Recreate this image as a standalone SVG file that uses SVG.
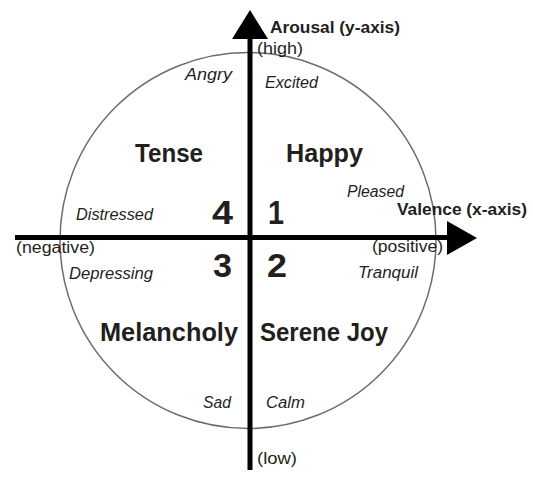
<svg xmlns="http://www.w3.org/2000/svg" width="533" height="478" viewBox="0 0 533 478">
<style>
text{font-family:"Liberation Sans",Arial,sans-serif;fill:#231f20}
.it{font-style:italic;font-size:16px}
.rg{font-size:16px}
.ax{font-weight:bold;font-size:16px}
.q{font-weight:bold;font-size:25px}
.n{font-weight:bold;font-size:34px}
</style>
<rect width="533" height="478" fill="#fff"/>
<g id="circle"><circle cx="248" cy="240.5" r="188" fill="none" stroke="#6d6d6d" stroke-width="1.5"/></g>
<g id="connectors">
<line x1="250" y1="36" x2="250" y2="470" stroke="#000" stroke-width="5"/>
<polygon points="250,10 232,39 268,39" fill="#000"/>
<line x1="15" y1="237.5" x2="450" y2="237.5" stroke="#000" stroke-width="5"/>
<polygon points="477,238 447,221 447,255" fill="#000"/>
</g>
<g id="y-axis-label"><text class="ax" x="270" y="33" textLength="130" lengthAdjust="spacingAndGlyphs">Arousal (y-axis)</text>
<text class="rg" x="257" y="54" textLength="46" lengthAdjust="spacingAndGlyphs">(high)</text>
<text class="rg" x="257" y="464" textLength="40" lengthAdjust="spacingAndGlyphs">(low)</text></g>
<g id="x-axis-label"><text class="ax" x="397" y="215" textLength="130" lengthAdjust="spacingAndGlyphs">Valence (x-axis)</text>
<text class="rg" x="16" y="253" textLength="79" lengthAdjust="spacingAndGlyphs">(negative)</text>
<text class="rg" x="372" y="252" textLength="71" lengthAdjust="spacingAndGlyphs">(positive)</text></g>
<g id="q1"><text class="q" x="286" y="162" textLength="77" lengthAdjust="spacingAndGlyphs">Happy</text>
<text class="n" x="268" y="224" textLength="16" lengthAdjust="spacingAndGlyphs">1</text>
<text class="it" x="265" y="88" textLength="53" lengthAdjust="spacingAndGlyphs">Excited</text>
<text class="it" x="347" y="197" textLength="57" lengthAdjust="spacingAndGlyphs">Pleased</text></g>
<g id="q2"><text class="q" x="260" y="341" textLength="128" lengthAdjust="spacingAndGlyphs">Serene Joy</text>
<text class="n" x="267" y="277" textLength="20" lengthAdjust="spacingAndGlyphs">2</text>
<text class="it" x="358" y="278" textLength="60" lengthAdjust="spacingAndGlyphs">Tranquil</text>
<text class="it" x="266" y="408" textLength="39" lengthAdjust="spacingAndGlyphs">Calm</text></g>
<g id="q3"><text class="q" x="100" y="341" textLength="138" lengthAdjust="spacingAndGlyphs">Melancholy</text>
<text class="n" x="213" y="277" textLength="19" lengthAdjust="spacingAndGlyphs">3</text>
<text class="it" x="69" y="279" textLength="84" lengthAdjust="spacingAndGlyphs">Depressing</text>
<text class="it" x="203" y="408" textLength="28" lengthAdjust="spacingAndGlyphs">Sad</text></g>
<g id="q4"><text class="q" x="135" y="162" textLength="68" lengthAdjust="spacingAndGlyphs">Tense</text>
<text class="n" x="212" y="224" textLength="21" lengthAdjust="spacingAndGlyphs">4</text>
<text class="it" x="76" y="220" textLength="77" lengthAdjust="spacingAndGlyphs">Distressed</text>
<text class="it" x="185" y="80" textLength="47" lengthAdjust="spacingAndGlyphs">Angry</text></g>
</svg>
